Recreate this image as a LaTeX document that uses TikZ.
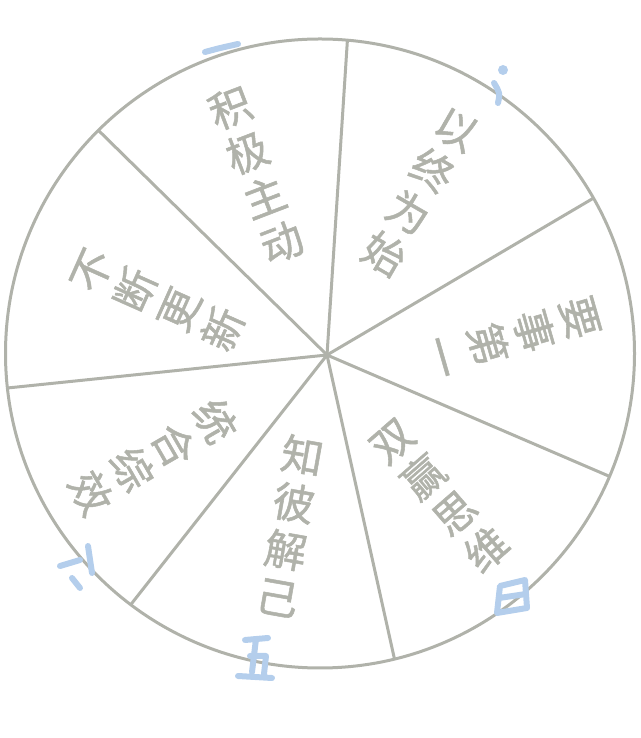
\documentclass[tikz,border=0pt]{standalone}
\usepackage{fontspec}
\newfontfamily\cjk[AutoFakeBold=1.2]{Noto Sans CJK SC}
\usetikzlibrary{positioning}
\definecolor{wheelgrey}{RGB}{176,178,170}
\definecolor{inkblue}{RGB}{180,206,236}

\begin{document}
\begin{tikzpicture}[x=1pt,y=1pt,
    rim/.style={draw,color=wheelgrey,line width=3pt},
    wedgelabel/.style={text=wheelgrey,font=\cjk\bfseries\fontsize{42}{48}\selectfont,align=center,inner sep=0pt},
    brush/.style={inkblue,line width=6pt,line cap=round,line join=round}]
    \useasboundingbox (0,0) rectangle (640,738);
    \coordinate (o) at (320,384.5);
    \coordinate (hub) at (327,383);

    \draw[rim] (o) circle (314.5);
    \foreach \a/\n in {85/1,29.6/2,-23/3,-76.3/4,-127/5,186.3/6,134.8/7}
      \coordinate (r\n) at ([shift={(\a:314.5)}]o);

    \path[rim]
      (hub) edge (r1)
      (hub) edge (r2)
      (hub) edge (r3)
      (hub) edge (r4)
      (hub) edge (r5)
      (hub) edge (r6)
      (hub) edge (r7);

    \node[wedgelabel,rotate=21]  (jiji)   at (256,563) {积\\极\\主\\动};
    \node[wedgelabel,rotate=-30] (yizhong) at (420,546) {以\\终\\为\\始};
    \node[wedgelabel,rotate=-74] (yaoshi) at (512,401) {要\\事\\第\\一};
    \node[wedgelabel,rotate=41]  (shuang) at (440,242) {双\\赢\\思\\维};
    \node[wedgelabel,rotate=-10] (zhibi)  at (290,212) {知\\彼\\解\\己};
    \node[wedgelabel,rotate=-60] (tonghe) at (153,281) {统\\合\\综\\效};
    \node[wedgelabel,rotate=66]  (buduan) at (158,438) {不\\断\\更\\新};

    % brush marks on the rim
    \draw[brush] (205,686) .. controls (220,690) .. (238,694);
    \fill[inkblue] (503,668) circle (5);
    \draw[brush] (494,655) .. controls (500,645) .. (498,635);
    \draw[brush] (60,172) -- (80,178) (88,192) -- (92,165) (72,160) -- (80,150);
    \draw[brush] (245,98) -- (268,100) (256,99) -- (252,66) (250,82) -- (266,82) -- (264,64) (238,62) -- (272,60);
    \draw[brush] (497,125) -- (500,152) -- (525,158) -- (527,130) -- cycle (499,140) -- (526,144);
\end{tikzpicture}
\end{document}
